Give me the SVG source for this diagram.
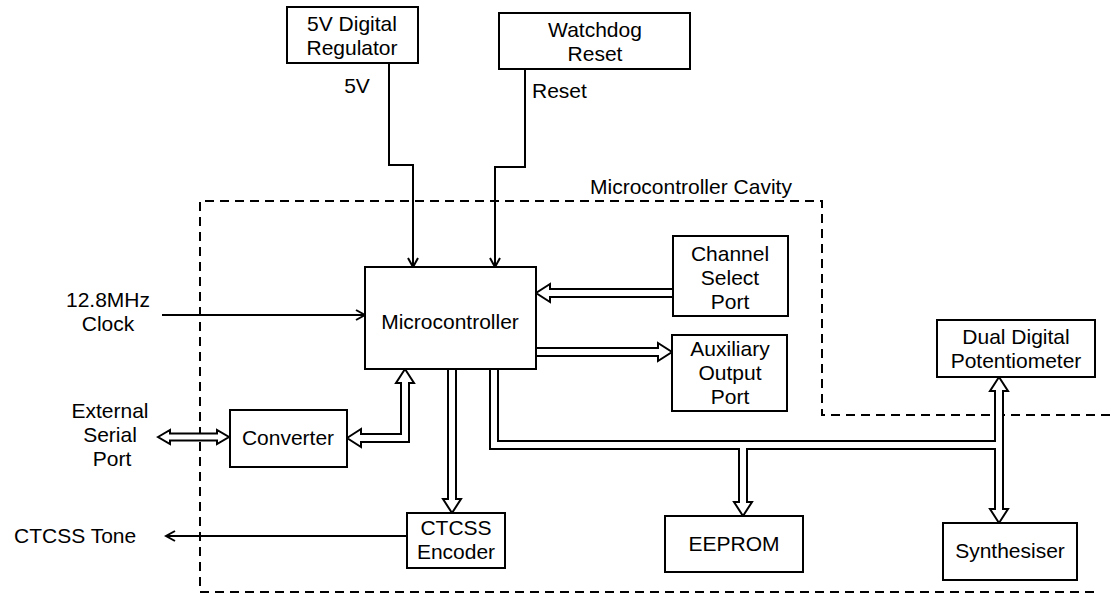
<svg xmlns="http://www.w3.org/2000/svg" width="1110" height="607" viewBox="0 0 1110 607">
<style>
.box{fill:#fff;stroke:#000;stroke-width:2}
.t{font-family:"Liberation Sans",Arial,sans-serif;font-size:21px;fill:#000;text-anchor:middle}
.ts{font-family:"Liberation Sans",Arial,sans-serif;font-size:21px;fill:#000}
.wire{fill:none;stroke:#000;stroke-width:2}
.bus{fill:#fff;stroke:#000;stroke-width:2;stroke-linejoin:miter}
.dash{fill:none;stroke:#000;stroke-width:2;stroke-dasharray:9 6}
</style>
<defs>
<marker id="ah" markerWidth="12" markerHeight="12" refX="10" refY="6" orient="auto" markerUnits="userSpaceOnUse">
<path d="M1,1 L10,6 L1,11" fill="none" stroke="#000" stroke-width="2"/>
</marker>
</defs>
<rect width="1110" height="607" fill="#fff"/>
<g id="cavity">
<path class="dash" d="M1110,415 H822 V201 H200 V592 H1096"/>
<text class="ts" x="590" y="194">Microcontroller Cavity</text>
</g>
<g id="connectors">
<path class="wire" d="M389,63 V165 H413 V267" marker-end="url(#ah)"/>
<path class="wire" d="M525,69 V167 H495 V267" marker-end="url(#ah)"/>
<path class="wire" d="M162,315 H365" marker-end="url(#ah)"/>
<path class="wire" d="M407,536 H166" marker-end="url(#ah)"/>
<path class="bus" d="M490,369 V449 H739 V502 H734 L743,516 L752,502 H747 V449 H995 V509 H990 L999,523 L1008,509 H1003 V391 H1008 L999,377 L990,391 H995 V441 H498 V369"/>
<path class="bus" d="M448,369 V499 H443 L452,513 L461,499 H456 V369"/>
<path class="bus" d="M673,289 H550 V284 L536,293 L550,302 V297 H673"/>
<path class="bus" d="M536,348 H658 V343 L672,352 L658,361 V356 H536"/>
<path class="bus" d="M347,438 L361,429 V434 H401 V383 H396 L405,369 L414,383 H409 V442 H361 V447 Z"/>
<path class="bus" d="M158,437 L170,430 V433.5 H217 V430 L229,437 L217,444 V440.5 H170 V444 Z"/>
<text class="t" x="357" y="93">5V</text>
<text class="ts" x="532" y="98">Reset</text>
<text class="t" x="108" y="307">12.8MHz</text>
<text class="t" x="108" y="331">Clock</text>
<text class="t" x="110" y="418">External</text>
<text class="t" x="110" y="442">Serial</text>
<text class="t" x="112" y="466">Port</text>
<text class="ts" x="14" y="543">CTCSS Tone</text>
</g>
<g id="regulator">
<rect class="box" x="287" y="7" width="131" height="56"/>
<text class="t" x="352" y="31">5V Digital</text>
<text class="t" x="352" y="55">Regulator</text>
</g>
<g id="watchdog">
<rect class="box" x="499" y="13" width="191" height="56"/>
<text class="t" x="595" y="37">Watchdog</text>
<text class="t" x="595" y="61">Reset</text>
</g>
<g id="microcontroller">
<rect class="box" x="365" y="267" width="171" height="102"/>
<text class="t" x="450" y="329">Microcontroller</text>
</g>
<g id="channel-select">
<rect class="box" x="673" y="236" width="115" height="80"/>
<text class="t" x="730" y="261">Channel</text>
<text class="t" x="730" y="285">Select</text>
<text class="t" x="730" y="309">Port</text>
</g>
<g id="auxiliary">
<rect class="box" x="672" y="335" width="115" height="76"/>
<text class="t" x="730" y="356">Auxiliary</text>
<text class="t" x="730" y="380">Output</text>
<text class="t" x="730" y="404">Port</text>
</g>
<g id="converter">
<rect class="box" x="230" y="410" width="117" height="57"/>
<text class="t" x="288" y="445">Converter</text>
</g>
<g id="ctcss-encoder">
<rect class="box" x="407" y="513" width="98" height="55"/>
<text class="t" x="456" y="535">CTCSS</text>
<text class="t" x="456" y="559">Encoder</text>
</g>
<g id="eeprom">
<rect class="box" x="665" y="516" width="138" height="56"/>
<text class="t" x="734" y="551">EEPROM</text>
</g>
<g id="synthesiser">
<rect class="box" x="943" y="523" width="134" height="57"/>
<text class="t" x="1010" y="558">Synthesiser</text>
</g>
<g id="potentiometer">
<rect class="box" x="937" y="320" width="158" height="57"/>
<text class="t" x="1016" y="344">Dual Digital</text>
<text class="t" x="1016" y="368">Potentiometer</text>
</g>
</svg>
